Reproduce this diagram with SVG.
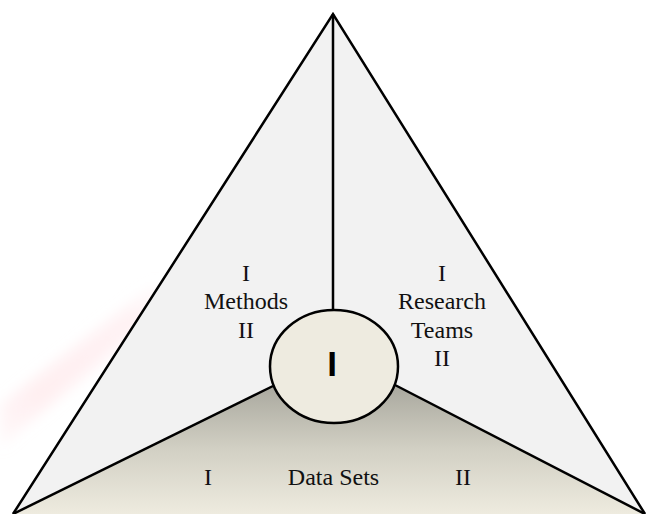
<svg xmlns="http://www.w3.org/2000/svg" width="647" height="514" viewBox="0 0 647 514">
<defs>
<linearGradient id="base" x1="0" y1="385" x2="0" y2="514" gradientUnits="userSpaceOnUse">
<stop offset="0" stop-color="#a9a89e"/>
<stop offset="0.5" stop-color="#d2d0c4"/>
<stop offset="1" stop-color="#eeebdf"/>
</linearGradient>
<linearGradient id="wm" x1="0" y1="440" x2="170" y2="290" gradientUnits="userSpaceOnUse">
<stop offset="0" stop-color="#ffd6dc" stop-opacity="0.15"/>
<stop offset="0.25" stop-color="#ffdfe3" stop-opacity="0.5"/>
<stop offset="0.8" stop-color="#ffe6ea" stop-opacity="0.5"/>
<stop offset="1" stop-color="#fff0f2" stop-opacity="0.3"/>
</linearGradient>
<filter id="blur" x="-30%" y="-30%" width="160%" height="160%"><feGaussianBlur stdDeviation="7"/></filter>
</defs>
<style>
.edge{fill:none;stroke:#000;stroke-width:2.5;stroke-linejoin:miter}
.face{fill:#f2f2f2;stroke:none}
.lbl{font-family:"Liberation Serif","Times New Roman",serif;font-size:24px;fill:#111;text-anchor:middle}
.core{font-family:"Liberation Sans",Arial,sans-serif;font-size:35px;font-weight:bold;fill:#000;text-anchor:middle}
</style>
<path d="M0,405 L155,285 L175,300 L20,430 L0,450 Z" fill="url(#wm)" filter="url(#blur)"/>
<g id="face-methods">
<polygon class="face" points="333,14 13,514 273,386 333,366"/>
<text class="lbl" x="246" y="281">I</text>
<text class="lbl" x="246" y="309">Methods</text>
<text class="lbl" x="246" y="338">II</text>
</g>
<g id="face-teams">
<polygon class="face" points="333,14 645,514 395,385 333,366"/>
<text class="lbl" x="442" y="281">I</text>
<text class="lbl" x="442" y="309">Research</text>
<text class="lbl" x="442" y="338">Teams</text>
<text class="lbl" x="442" y="366">II</text>
</g>
<g id="face-data">
<polygon points="13,514 273,386 334,380 395,385 645,514" fill="url(#base)"/>
<text class="lbl" x="208" y="485">I</text>
<text class="lbl" x="333.5" y="485">Data Sets</text>
<text class="lbl" x="463" y="485">II</text>
</g>
<g id="connectors">
<polyline class="edge" points="13,514 333,14 645,514"/>
<line class="edge" x1="333" y1="14" x2="333" y2="310"/>
<line class="edge" x1="273" y1="386" x2="13" y2="514"/>
<line class="edge" x1="395" y1="385" x2="645" y2="514"/>
</g>
<g id="hub">
<ellipse cx="334" cy="366.5" rx="64" ry="56.5" fill="#eeebe0" stroke="#000" stroke-width="2.5"/>
<text class="core" x="332" y="376">I</text>
</g>
</svg>
